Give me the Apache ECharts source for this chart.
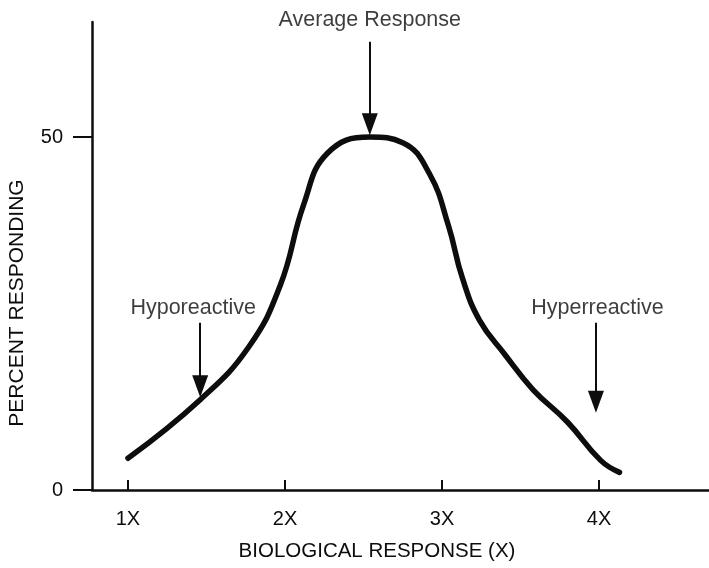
<!DOCTYPE html>
<html><head><meta charset="utf-8">
<script src="https://cdn.jsdelivr.net/npm/echarts@6/dist/echarts.min.js"></script>
<style>html,body{margin:0;padding:0;background:#fff}#c{width:709px;height:568px}</style>
</head><body><div id="c"></div>
<script>
// Curve (biological response multiple vs percent responding)
const curveX = [1.00, 1.46, 1.77, 1.97, 2.12, 2.27, 2.54, 2.75, 2.92, 3.04, 3.13, 3.24, 3.40, 3.58, 3.80, 4.01, 4.13];
const curveY = [4.5, 12.8, 20.3, 29.0, 40.5, 47.7, 50.0, 49.2, 44.8, 37.5, 30.0, 24.0, 19.2, 14.2, 9.6, 4.2, 2.5];

const xTickValues = [1, 2, 3, 4];
const xTickLabels = ['1X', '2X', '3X', '4X'];
const yTickValues = [0, 50];
const yTickLabels = ['0', '50'];

const annotationLabels = ['Average Response', 'Hyporeactive', 'Hyperreactive'];
const arrowX = [2.54, 1.46, 3.98];
const arrowFromY = [63.5, 23.7, 23.7];
const arrowToY = [51.8, 14.7, 12.5];
const labelX = [2.54, 1.415, 3.99];
const labelY = [66.6, 25.8, 25.8];

const FONT = "'Liberation Sans', Arial, Helvetica, sans-serif";
const INK = '#0d0d0d';

const chart = echarts.init(document.getElementById('c'), null, {renderer: 'canvas'});

const curveData = curveX.map((x, i) => [x, curveY[i]]);
const arrowLines = arrowX.map((x, i) => [
  {coord: [x, arrowFromY[i]]},
  {coord: [x, arrowToY[i]]}
]);
const labelData = labelX.map((x, i) => ({value: [x, labelY[i]], name: annotationLabels[i]}));

chart.setOption({
  animation: false,
  backgroundColor: '#ffffff',
  grid: {left: 92, right: 0, top: 22, bottom: 78, containLabel: false},
  xAxis: {
    type: 'value', min: 0.771, max: 4.70,
    axisLine: {show: true, lineStyle: {color: INK, width: 2.5}},
    axisTick: {show: true, inside: true, length: 10, lineStyle: {color: INK, width: 2}, customValues: xTickValues},
    axisLabel: {show: true, margin: 19, color: INK, fontFamily: FONT, fontSize: 20,
      customValues: xTickValues,
      formatter: v => xTickLabels[xTickValues.indexOf(Math.round(v))] || ''},
    splitLine: {show: false}
  },
  yAxis: {
    type: 'value', min: 0, max: 66.3,
    axisLine: {show: true, lineStyle: {color: INK, width: 2.5}},
    axisTick: {show: true, inside: false, length: 19, lineStyle: {color: INK, width: 2}, customValues: yTickValues},
    axisLabel: {show: true, margin: 29, color: INK, fontFamily: FONT, fontSize: 20,
      customValues: yTickValues,
      formatter: v => yTickLabels[yTickValues.indexOf(Math.round(v))] || ''},
    splitLine: {show: false}
  },
  graphic: [
    {type: 'text', x: 377, y: 541, style: {text: 'BIOLOGICAL RESPONSE (X)', fill: INK, font: '20.5px ' + FONT, align: 'center', verticalAlign: 'top'}},
    {type: 'text', x: 7, y: 303, rotation: Math.PI / 2, originX: 0, originY: 0,
      style: {text: 'PERCENT RESPONDING', fill: INK, font: '21px ' + FONT, align: 'center', verticalAlign: 'top'}}
  ],
  series: [
    {
      type: 'line', data: curveData, smooth: 0.45, showSymbol: false,
      lineStyle: {color: INK, width: 5.5, cap: 'round', join: 'round'},
      markLine: {
        silent: true, symbol: ['none', 'triangle'], symbolSize: [16, 22],
        label: {show: false},
        lineStyle: {color: INK, width: 2, type: 'solid'},
        data: arrowLines
      }
    },
    {
      type: 'scatter', data: labelData, symbolSize: 0, clip: false, silent: true,
      label: {show: true, position: 'inside', formatter: p => p.name, color: INK, fontFamily: FONT, fontSize: 21.5}
    }
  ]
});
</script>
</body></html>
